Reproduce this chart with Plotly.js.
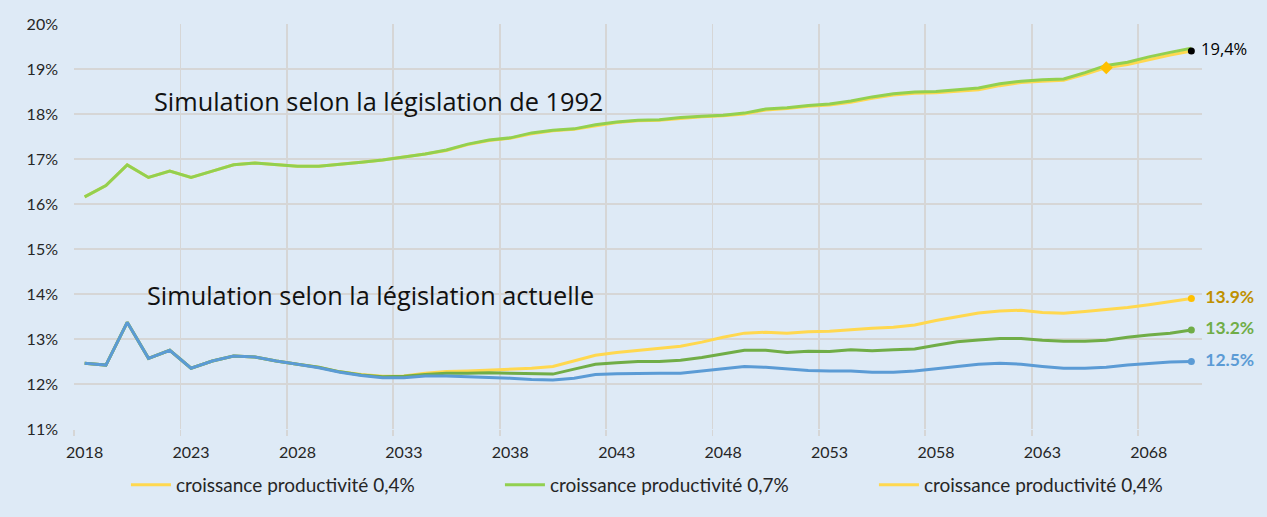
<!DOCTYPE html>
<html>
<head>
<meta charset="utf-8">
<script src="https://cdn.plot.ly/plotly-3.0.1.min.js"></script>
<style>
  html, body { margin: 0; padding: 0; background: #deeaf6; }
  #chart { width: 1267px; height: 517px; }
</style>
</head>
<body>
<div id="chart"></div>
<script>
// Years of projection
const years = [2018, 2019, 2020, 2021, 2022, 2023, 2024, 2025, 2026, 2027,
  2028, 2029, 2030, 2031, 2032, 2033, 2034, 2035, 2036, 2037,
  2038, 2039, 2040, 2041, 2042, 2043, 2044, 2045, 2046, 2047,
  2048, 2049, 2050, 2051, 2052, 2053, 2054, 2055, 2056, 2057,
  2058, 2059, 2060, 2061, 2062, 2063, 2064, 2065, 2066, 2067,
  2068, 2069, 2070];

// Labelled years on the axis and the boundaries between category groups
const yearLabels = [2018, 2023, 2028, 2033, 2038, 2043, 2048, 2053, 2058, 2063, 2068];
const gridYears = [2017.5, 2022.5, 2027.5, 2032.5, 2037.5, 2042.5, 2047.5, 2052.5, 2057.5, 2062.5, 2067.5];

// Legislation of 1992 (% of GDP)
const law1992_p04 = [16.16, 16.41, 16.87, 16.59, 16.73, 16.59, 16.73, 16.87, 16.91, 16.88,
  16.84, 16.84, 16.88, 16.93, 16.98, 17.04, 17.11, 17.19, 17.32, 17.41,
  17.46, 17.56, 17.63, 17.66, 17.74, 17.81, 17.85, 17.86, 17.90, 17.94,
  17.96, 18.00, 18.09, 18.12, 18.17, 18.20, 18.26, 18.35, 18.42, 18.46,
  18.47, 18.50, 18.54, 18.63, 18.70, 18.73, 18.75, 18.88, 19.03, 19.10,
  19.21, 19.31, 19.40];
const law1992_p07 = [16.16, 16.41, 16.87, 16.59, 16.73, 16.59, 16.73, 16.87, 16.91, 16.88,
  16.84, 16.84, 16.88, 16.93, 16.98, 17.04, 17.11, 17.20, 17.33, 17.42,
  17.47, 17.58, 17.64, 17.67, 17.76, 17.82, 17.86, 17.87, 17.92, 17.95,
  17.97, 18.02, 18.11, 18.14, 18.19, 18.22, 18.29, 18.38, 18.45, 18.49,
  18.50, 18.54, 18.58, 18.67, 18.73, 18.76, 18.78, 18.92, 19.08, 19.15,
  19.27, 19.37, 19.46];

// Current legislation (% of GDP)
const current_p04 = [12.46, 12.42, 13.37, 12.57, 12.75, 12.35, 12.51, 12.62, 12.60, 12.51,
  12.44, 12.37, 12.27, 12.21, 12.17, 12.18, 12.24, 12.28, 12.29, 12.31,
  12.33, 12.35, 12.39, 12.51, 12.64, 12.70, 12.75, 12.79, 12.84, 12.93,
  13.04, 13.13, 13.15, 13.13, 13.16, 13.17, 13.21, 13.24, 13.26, 13.31,
  13.41, 13.50, 13.58, 13.62, 13.64, 13.59, 13.57, 13.61, 13.65, 13.70,
  13.76, 13.83, 13.90];
const current_p07 = [12.46, 12.42, 13.37, 12.57, 12.75, 12.35, 12.51, 12.62, 12.60, 12.51,
  12.44, 12.37, 12.27, 12.20, 12.16, 12.17, 12.21, 12.24, 12.24, 12.25,
  12.24, 12.23, 12.22, 12.33, 12.44, 12.47, 12.50, 12.50, 12.53, 12.59,
  12.67, 12.75, 12.75, 12.70, 12.73, 12.72, 12.76, 12.74, 12.76, 12.78,
  12.86, 12.94, 12.98, 13.01, 13.01, 12.97, 12.95, 12.95, 12.97, 13.04,
  13.09, 13.13, 13.20];
const current_p10 = [12.46, 12.42, 13.37, 12.57, 12.75, 12.35, 12.51, 12.62, 12.60, 12.51,
  12.44, 12.36, 12.26, 12.19, 12.14, 12.14, 12.18, 12.18, 12.16, 12.15,
  12.13, 12.10, 12.09, 12.13, 12.21, 12.23, 12.24, 12.24, 12.24, 12.29,
  12.34, 12.39, 12.37, 12.33, 12.30, 12.29, 12.29, 12.26, 12.26, 12.29,
  12.34, 12.40, 12.44, 12.46, 12.44, 12.39, 12.35, 12.35, 12.37, 12.42,
  12.45, 12.49, 12.50];

const legendNames = ['croissance productivité 0,4%', 'croissance productivité 0,7%', 'croissance productivité 0,4%'];

const YELLOW = '#ffd84f';
const LIGHT_GREEN = '#92d050';
const GREEN = '#70ad47';
const BLUE = '#5b9bd5';
const BG = '#deeaf6';
const GRID = '#d6d6d6';

const last = years.length - 1;
const markIdx = years.indexOf(2066);

function line(y, color, name, show) {
  return {
    type: 'scatter', mode: 'lines', x: years, y: y, name: name,
    showlegend: show, line: { color: color, width: 3 },
    hoverinfo: 'skip'
  };
}

function endLabel(y, dotColor, textColor, text, bold) {
  return {
    type: 'scatter', mode: 'markers+text', showlegend: false,
    x: [years[last]], y: [y[last]],
    marker: { color: dotColor, size: 7 },
    text: [text], textposition: 'middle right',
    textfont: { family: bold ? 'Lato' : 'Open Sans', size: bold ? 17.5 : 16.5, color: textColor, weight: bold ? 'bold' : 'normal' },
    cliponaxis: false, hoverinfo: 'skip'
  };
}

const fmtDot = v => '  ' + v.toFixed(1) + '%';
const fmtComma = v => ' ' + v.toFixed(1).replace('.', ',') + '%';

const traces = [
  line(law1992_p04, YELLOW, legendNames[0], true),
  line(law1992_p07, LIGHT_GREEN, legendNames[1], true),
  line(current_p04, YELLOW, legendNames[2], true),
  line(current_p07, GREEN, '', false),
  line(current_p10, BLUE, '', false),
  {
    type: 'scatter', mode: 'markers', showlegend: false,
    x: [years[markIdx]], y: [law1992_p04[markIdx]],
    marker: { symbol: 'diamond', color: '#ffc000', size: 10 },
    hoverinfo: 'skip'
  },
  endLabel(law1992_p04, '#000000', '#000000', fmtComma(law1992_p04[last]), false),
  endLabel(current_p04, '#ffc000', '#bf9000', fmtDot(current_p04[last]), true),
  endLabel(current_p07, GREEN, GREEN, fmtDot(current_p07[last]), true),
  endLabel(current_p10, BLUE, BLUE, fmtDot(current_p10[last]), true),
  // carrier for the boundary grid axis
  { type: 'scatter', mode: 'none', x: [years[0]], y: [law1992_p04[0]], xaxis: 'x2', showlegend: false, hoverinfo: 'skip' }
];

const layout = {
  width: 1267, height: 517,
  margin: { l: 74, r: 65, t: 24, b: 88 },
  paper_bgcolor: BG, plot_bgcolor: BG,
  font: { family: 'Lato', size: 16, color: '#262626' },
  showlegend: true,
  legend: {
    orientation: 'h', xref: 'container', yref: 'container',
    x: 0.0994, xanchor: 'left', y: 0.062, yanchor: 'middle',
    bgcolor: 'rgba(0,0,0,0)', entrywidth: 319, entrywidthmode: 'pixels',
    itemwidth: 40, font: { family: 'Lato', size: 19, color: '#262626' },
    traceorder: 'normal'
  },
  xaxis: {
    range: [2017.5, 2070.5], tickmode: 'array', tickvals: yearLabels,
    ticktext: yearLabels.map(String), showgrid: false, zeroline: false,
    ticks: '', showline: false, tickfont: { family: 'Lato', size: 16, color: '#262626' },
    ticklabelstandoff: 12
  },
  xaxis2: {
    overlaying: 'x', anchor: 'y', side: 'bottom', range: [2017.5, 2070.5],
    tickmode: 'array', tickvals: gridYears, showticklabels: false,
    showgrid: true, gridcolor: GRID, gridwidth: 1.8, zeroline: false,
    ticks: 'outside', ticklen: 6, tickwidth: 1.8, tickcolor: GRID, showline: false
  },
  yaxis: {
    range: [11, 20], tickmode: 'linear', tick0: 11, dtick: 1, ticksuffix: '%',
    showgrid: true, gridcolor: GRID, gridwidth: 1.8, zeroline: false,
    ticks: '', showline: false, tickfont: { family: 'Lato', size: 16, color: '#262626' },
    ticklabelstandoff: 15
  },
  annotations: [
    { text: 'Simulation selon la législation de 1992', x: 2021.15, y: 18.29, xref: 'x', yref: 'y',
      xanchor: 'left', yanchor: 'middle', showarrow: false,
      font: { family: 'Open Sans', size: 25.3, color: '#111111' } },
    { text: 'Simulation selon la législation actuelle', x: 2020.82, y: 13.98, xref: 'x', yref: 'y',
      xanchor: 'left', yanchor: 'middle', showarrow: false,
      font: { family: 'Open Sans', size: 25.3, color: '#111111' } }
  ]
};

Plotly.newPlot('chart', traces, layout, { displayModeBar: false, staticPlot: true });
</script>
</body>
</html>
